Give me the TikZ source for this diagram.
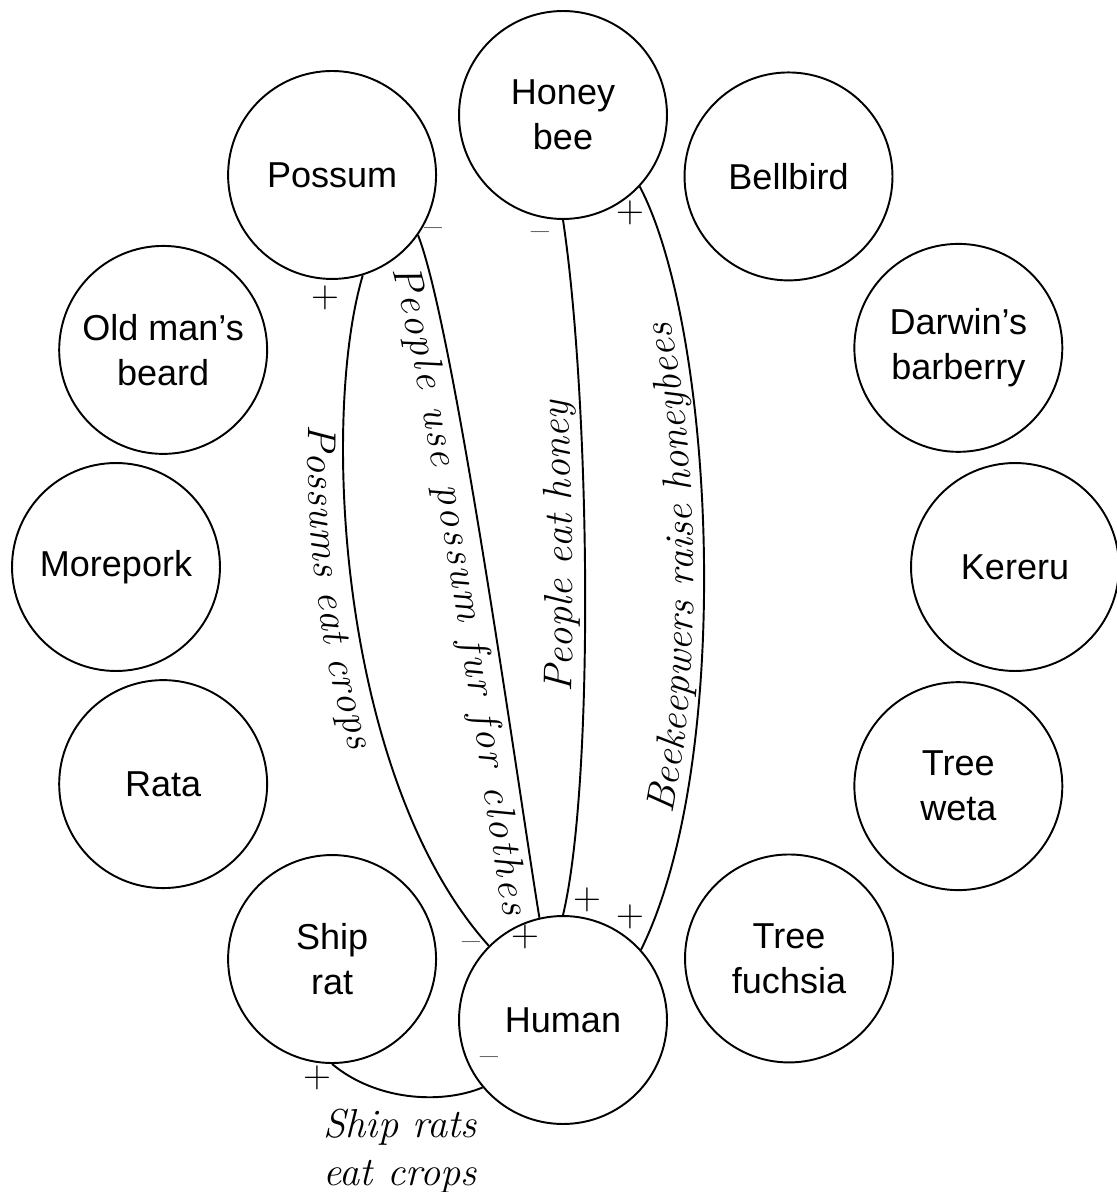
\documentclass[tikz,border=0pt]{standalone}
\usepackage{fontspec}
\newfontfamily\speciesfont{Liberation Sans}
\usetikzlibrary{decorations.text}
\newcommand\handfont{\itshape\fontsize{23}{27}\selectfont}
\tikzset{
  species/.style={circle, draw, line width=1.1pt, minimum size=4.16cm, inner sep=0pt, align=center,
    font=\speciesfont\fontsize{20.5}{25.5}\selectfont},
  link/.style={line width=1.1pt},
  sign/.style={inner sep=0pt, font=\fontsize{22}{22}\selectfont},
}
\begin{document}
\begin{tikzpicture}[x=0.02cm, y=0.02cm]
    \useasboundingbox (0,0) rectangle (1116,-1192);
    \begin{scope}[shift={(563,-567)}]
      \foreach \ang/\rad/\name/\txt in {90/452/honeybee/{Honey\\bee}, 60/451/bellbird/Bellbird,
	29/452/darwin/{Darwin’s\\barberry}, 0/452/kereru/Kereru, -29/452/weta/{Tree\\weta},
	-60/452/fuchsia/{Tree\\fuchsia}, -90/453/human/Human, -120.5/455/shiprat/{Ship\\rat},
	-151.5/455/rata/Rata, 180/447/morepork/Morepork, 151.5/455/oldman/{Old man’s\\beard},
	120.5/455/possum/Possum} {
	\node[species] (\name) at (\ang:\rad) {\txt};
      };
    \end{scope}
    \draw[link, postaction={decorate, decoration={text along path, text={|\handfont|Possums eat crops},
	text align={left, left indent=86pt}, raise=-20pt}}]
      (possum.-73.5) .. controls (320,-420) and (340,-780) .. (human.135);
    \draw[link, postaction={decorate, decoration={text along path, text={|\handfont|People use possum fur for clothes},
	text align={fit to path, left indent=15pt, right indent=4pt}, raise=-20pt}}]
      (possum.-35.8) .. controls (455,-330) and (520,-800) .. (human.103.8);
    \draw[link, postaction={decorate, decoration={text along path, text={|\handfont|People eat honey},
	text align={left, left indent=127pt}, raise=7pt}}]
      (human.90) .. controls (595,-780) and (590,-400) .. (honeybee.-90);
    \draw[link, postaction={decorate, decoration={text along path, text={|\handfont|Beekeepwers raise honeybees},
	text align=center, raise=6pt}}]
      (human.42.3) .. controls (735,-760) and (715,-330) .. (honeybee.-43.5);
    \draw[link] (shiprat.-90) .. controls (375,-1100) and (440,-1105) .. (human.220);
    \node[font=\handfont, align=center, inner sep=0pt] (ratscrops) at (400,-1151) {Ship rats\\eat crops};
    \node[sign] (possumplus) at (325,-298) {+};
    \node[sign] (possumminus) at (433,-233) {\textendash};
    \node[sign] (honeyminus) at (540,-237) {\textendash};
    \node[sign] (honeyplus) at (630,-213) {+};
    \node[sign] (humancrops) at (471,-947) {\textendash};
    \node[sign] (humanfur) at (525,-937) {+};
    \node[sign] (humanhoney) at (587,-900) {+};
    \node[sign] (humanbees) at (630,-917) {+};
    \node[sign] (ratplus) at (317,-1078) {+};
    \node[sign] (humanrats) at (489,-1062) {\textendash};
\end{tikzpicture}
\end{document}
